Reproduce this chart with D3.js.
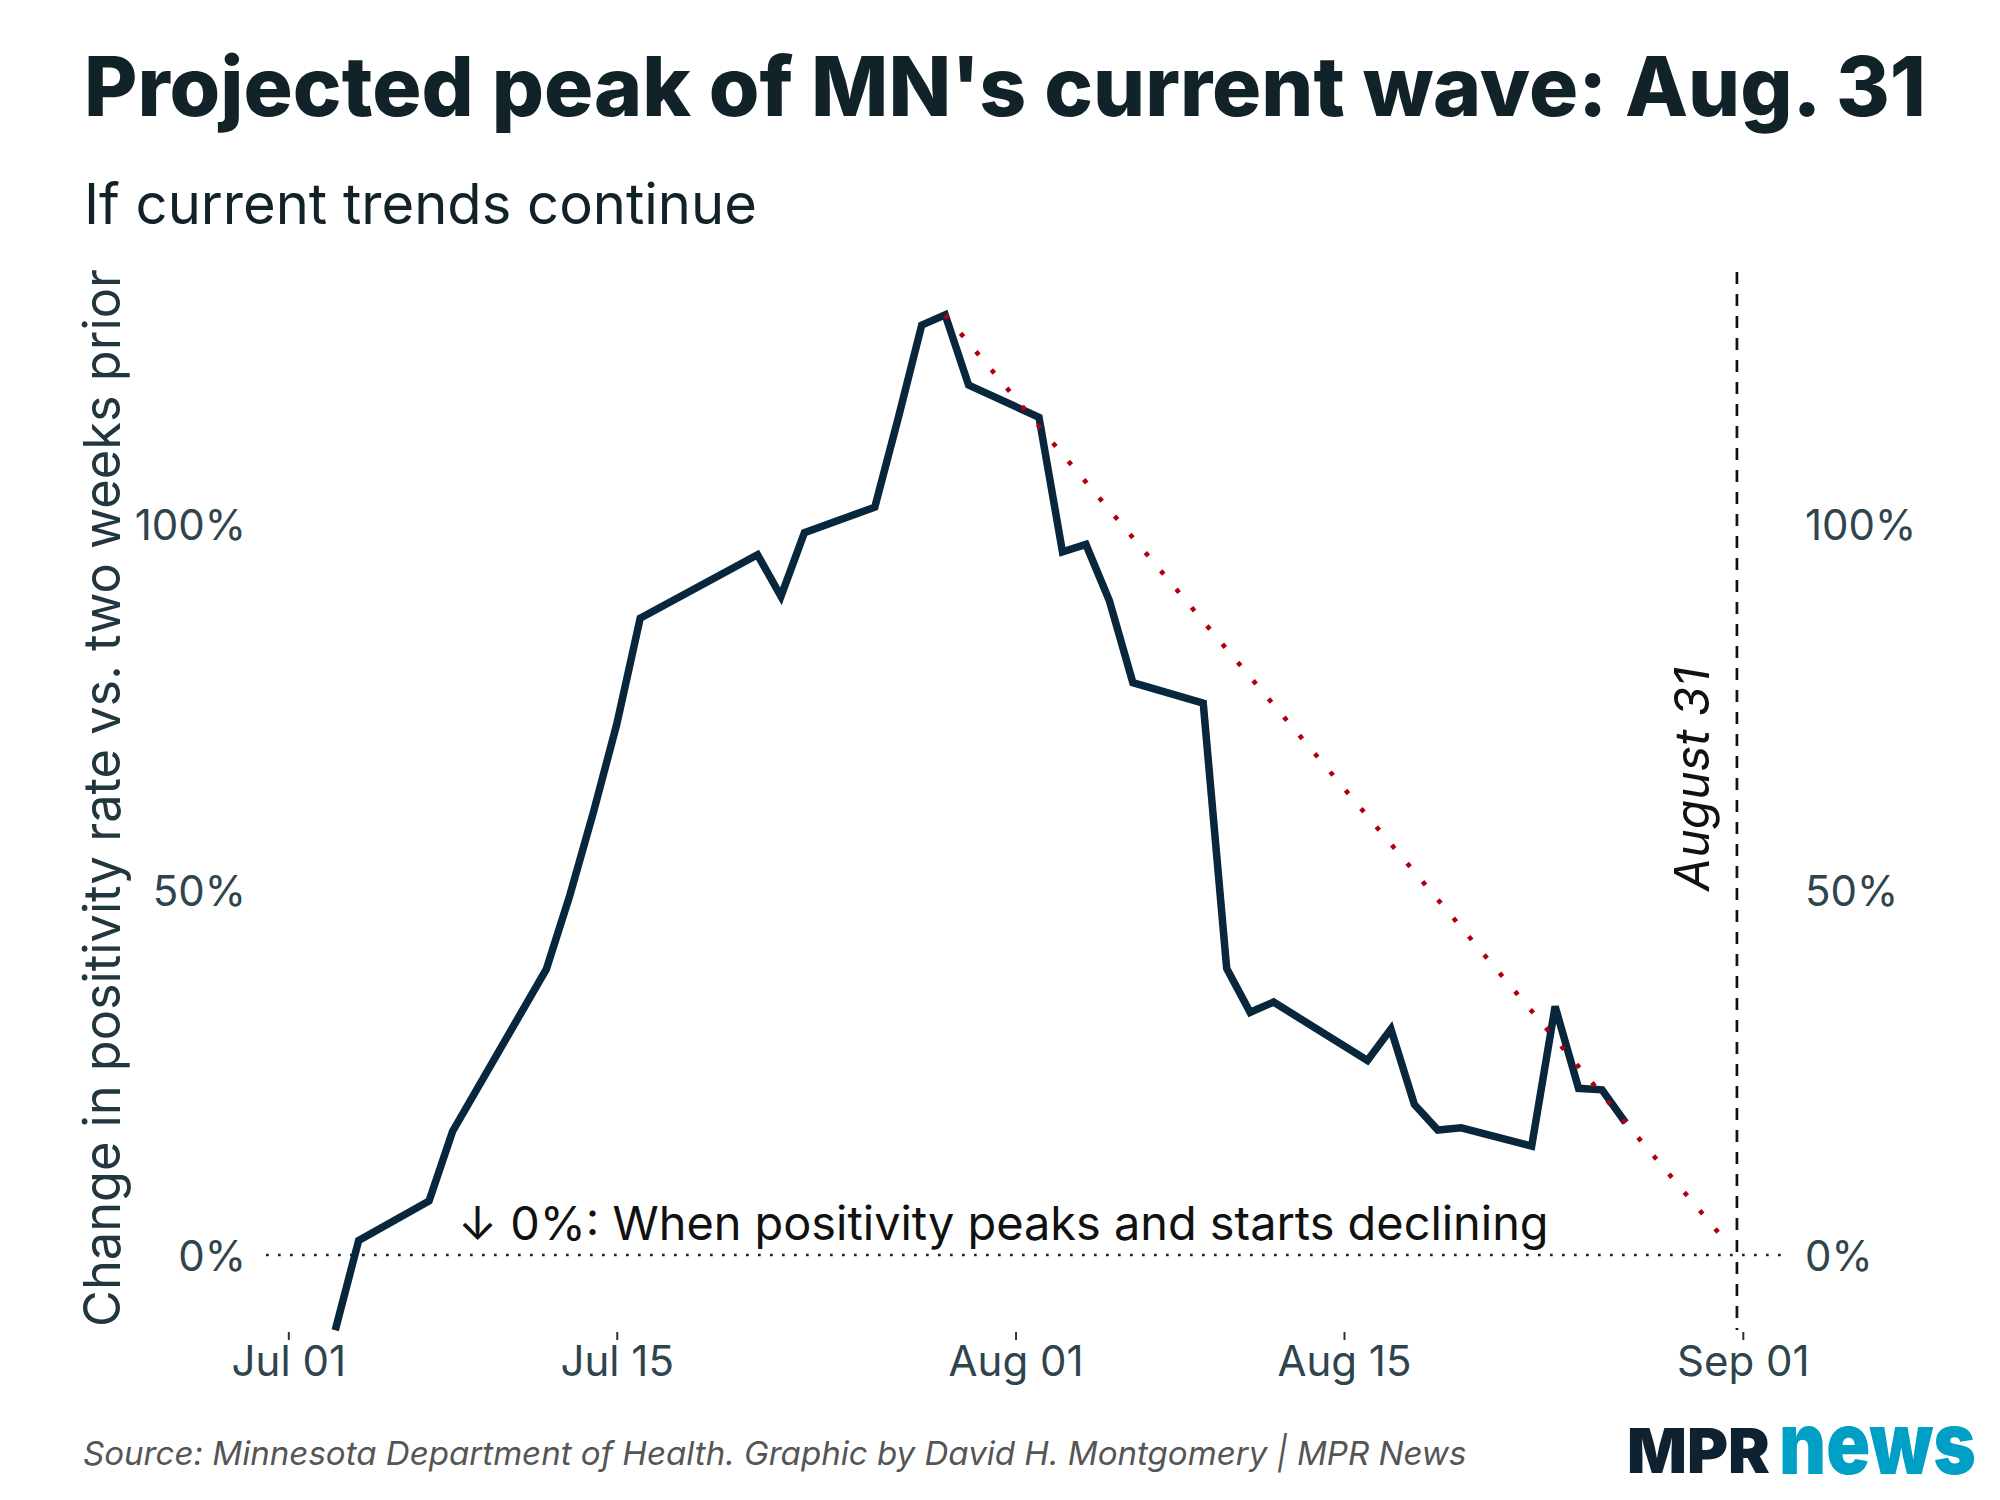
<!DOCTYPE html>
<html><head><meta charset="utf-8">
<script src="https://cdn.jsdelivr.net/npm/d3@7"></script>
<style>html,body{margin:0;padding:0;background:#fff;} svg{display:block;font-family:Inter,"Open Sans",sans-serif;}</style>
</head><body>
<script>
// ---- data ----
const dates = ["2021-07-03","2021-07-04","2021-07-07","2021-07-08","2021-07-12","2021-07-13","2021-07-14","2021-07-15","2021-07-16",
  "2021-07-21","2021-07-22","2021-07-23","2021-07-26","2021-07-27","2021-07-28","2021-07-29","2021-07-30",
  "2021-08-02","2021-08-03","2021-08-04","2021-08-05","2021-08-06","2021-08-09","2021-08-10","2021-08-11","2021-08-12",
  "2021-08-16","2021-08-17","2021-08-18","2021-08-19","2021-08-20","2021-08-23","2021-08-24","2021-08-25","2021-08-26","2021-08-27"];
const values = [-10.3, 2.0, 7.4, 16.9, 39.1, 49.2, 60.5, 72.6, 87.1,
  95.8, 90.1, 98.8, 102.3, 114.5, 127.2, 128.6, 119.0,
  114.6, 96.2, 97.2, 89.5, 78.3, 75.5, 39.2, 33.2, 34.6,
  26.6, 30.9, 20.6, 17.1, 17.4, 14.9, 34.0, 22.8, 22.6, 18.1];
const projDates = ["2021-07-29", "2021-08-31"];
const projValues = [128.6, 2.9];
const peakDate = "2021-08-31T18:00";
const peakLabel = "August 31";
const xTickDates = ["2021-07-01","2021-07-15","2021-08-01","2021-08-15","2021-09-01"];
const yTickValues = [0, 50, 100];
const titleText = "Projected peak of MN's current wave: Aug. 31";
const subtitleText = "If current trends continue";
const yTitleText = "Change in positivity rate vs. two weeks prior";
const annotationText = "\u2193 0%: When positivity peaks and starts declining";
const sourceText = "Source: Minnesota Department of Health. Graphic by David H. Montgomery | MPR News";

const parse = s => new Date(s.length > 10 ? s : s + "T00:00");

const W = 2000, H = 1500;
const svg = d3.select("body").append("svg").attr("width", W).attr("height", H);
svg.append("rect").attr("width", W).attr("height", H).attr("fill", "#fff");

const x = d3.scaleTime().domain([parse("2021-07-01"), parse("2021-09-01")]).range([288.3, 1742.8]);
const y = d3.scaleLinear().domain([0, 100]).range([1255, 524]);

function fit(sel, target) {
  const fs = parseFloat(sel.attr("font-size"));
  const len = sel.node().getComputedTextLength();
  if (len > 0) sel.attr("font-size", fs * target / len);
  return sel;
}

// titles
fit(svg.append("text").attr("x", 84).attr("y", 116).attr("font-size", 81).attr("font-weight", 800)
  .attr("fill", "#112229").text(titleText), 1842);
fit(svg.append("text").attr("x", 84).attr("y", 224).attr("font-size", 55).attr("font-weight", 400)
  .attr("fill", "#112229").text(subtitleText), 673);

// y title
fit(svg.append("text").attr("transform", "translate(120,798) rotate(-90)").attr("text-anchor", "middle")
  .attr("font-size", 50).attr("fill", "#22363f").text(yTitleText), 1058);

// zero line
svg.append("line").attr("x1", 266).attr("x2", 1786).attr("y1", y(0)).attr("y2", y(0))
  .attr("stroke", "#222").attr("stroke-width", 2.7).attr("stroke-dasharray", "2.7 9.3");

// vertical dashed line
svg.append("line").attr("x1", x(parse(peakDate))).attr("x2", x(parse(peakDate))).attr("y1", 272).attr("y2", 1330)
  .attr("stroke", "#111").attr("stroke-width", 2.7).attr("stroke-dasharray", "12 10");

// x axis
const xAxis = svg.append("g").attr("transform", "translate(0,1332)")
  .call(d3.axisBottom(x).tickValues(xTickDates.map(parse)).tickFormat(d3.timeFormat("%b %d")).tickSize(8));
xAxis.select(".domain").remove();
xAxis.selectAll(".tick line").attr("stroke", "#333").attr("stroke-width", 2);
xAxis.selectAll(".tick text").attr("y", 44).attr("dy", null).attr("font-size", 42)
  .attr("font-family", "Inter").attr("fill", "#2f444d");

// y axes
const yl = svg.append("g").attr("transform", "translate(246,0)")
  .call(d3.axisLeft(y).tickValues(yTickValues).tickFormat(d => d + "%").tickSize(0));
yl.select(".domain").remove();
yl.selectAll(".tick text").attr("x", 0).attr("dy", "0.37em").attr("font-size", 42)
  .attr("font-family", "Inter").attr("fill", "#2f444d");
const yr = svg.append("g").attr("transform", "translate(1805,0)")
  .call(d3.axisRight(y).tickValues(yTickValues).tickFormat(d => d + "%").tickSize(0));
yr.select(".domain").remove();
yr.selectAll(".tick text").attr("x", 0).attr("dy", "0.37em").attr("font-size", 42)
  .attr("font-family", "Inter").attr("fill", "#2f444d");

// main line
const series = dates.map((d, i) => ({ d: parse(d), v: values[i] }));
const line = d3.line().x(p => x(p.d)).y(p => y(p.v));
svg.append("path").datum(series).attr("d", line).attr("fill", "none")
  .attr("stroke", "#08263c").attr("stroke-width", 7.5).attr("stroke-linejoin", "miter").attr("stroke-linecap", "butt");

// projection
const proj = projDates.map((d, i) => ({ d: parse(d), v: projValues[i] }));
svg.append("path").datum(proj).attr("d", line).attr("fill", "none")
  .attr("stroke", "#b0000f").attr("stroke-width", 4.6).attr("stroke-dasharray", "4.6 19.3");

// annotations
fit(svg.append("text").attr("x", 458).attr("y", 1240).attr("font-size", 44).attr("fill", "#111")
  .text(annotationText), 1091);
fit(svg.append("text").attr("transform", `translate(${x(parse(peakDate)) - 28},779) rotate(-90)`)
  .attr("text-anchor", "middle").attr("font-size", 44).attr("font-style", "italic").attr("fill", "#111")
  .text(peakLabel), 224);

// source
fit(svg.append("text").attr("x", 83).attr("y", 1465).attr("font-size", 30).attr("font-style", "italic")
  .attr("fill", "#555").text(sourceText), 1384);

// logo: fit width, then stretch vertically to the logo's height
function logoWord(txt, x0, base, target, heightPx, heightRatio, color) {
  const g = svg.append("g");
  const t = g.append("text").attr("x", 0).attr("y", 0).attr("font-size", 60).attr("font-weight", 900)
    .attr("fill", color).text(txt);
  fit(t, target);
  const fs = parseFloat(t.attr("font-size"));
  const sy = heightPx / (heightRatio * fs);
  g.attr("transform", `translate(${x0},${base}) scale(1,${sy})`);
}
logoWord("MPR", 1627, 1473, 143, 44.5, 0.727, "#0e2231");
logoWord("news", 1779, 1474, 197, 47, 0.546, "#00a0c6");
</script>
</body></html>
